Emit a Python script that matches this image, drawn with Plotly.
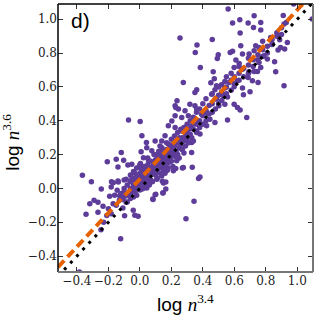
import plotly.graph_objects as go

# ---- data ----
pts = [
 # upper region
 (0.255,0.889),(0.46,0.880),(0.363,0.847),(0.352,0.804),(0.498,0.790),(0.492,0.768),(0.384,0.715),
 (0.466,0.689),(0.473,0.648),(0.276,0.626),(0.451,0.624),(0.54,0.632),(0.519,0.612),(0.487,0.607),
 (0.361,0.583),(0.477,0.583),(0.54,0.593),
 (0.561,1.060),(0.726,1.021),(0.589,0.977),(0.635,0.997),(0.688,0.977),(0.768,0.981),(0.637,0.918),
 (0.722,0.951),(0.768,0.936),(0.911,1.022),(0.916,0.972),(1.095,1.001),(0.977,1.09),(0.831,0.892),
 (0.888,0.879),(0.937,0.863),(0.842,0.853),(0.894,0.833),(0.878,0.818),(0.92,0.824),(0.856,0.749),
 (0.863,0.689),(0.916,0.607),
 (0.574,0.804),(0.589,0.81),(0.641,0.843),(0.652,0.794),(0.694,0.794),(0.736,0.843),(0.757,0.833),
 (0.726,0.814),(0.61,0.759),(0.631,0.739),(0.599,0.715),(0.652,0.705),(0.757,0.744),(0.768,0.715),
 (0.747,0.691),(0.726,0.691),(0.694,0.691),(0.688,0.656),(0.751,0.626),(0.715,0.636),(0.62,0.636),
 (0.652,0.593),(0.599,0.601),(0.568,0.626),(0.789,0.784),(0.81,0.765),
 # below line, right
 (0.557,0.541),(0.599,0.498),(0.62,0.478),(0.637,0.464),(0.658,0.553),(0.70,0.571),(0.679,0.419),
 (0.557,0.404),
 # middle band
 (0.35,0.567),(0.456,0.557),(0.487,0.528),(0.53,0.547),(0.54,0.498),(0.502,0.488),(0.224,0.488),
 (0.245,0.469),(0.318,0.498),(0.35,0.488),(0.287,0.459),(0.361,0.469),(0.424,0.449),(0.224,0.429),
 (0.203,0.399),(0.266,0.419),(0.308,0.429),(0.392,0.439),(0.445,0.409),(0.477,0.389),(0.424,0.37),
 (0.372,0.389),(0.181,0.37),(0.224,0.36),(0.266,0.34),(0.329,0.36),(0.361,0.34),(0.382,0.321),
 (0.297,0.301),(0.261,0.281),(0.16,0.311),(0.139,0.281),(0.181,0.262),(0.097,0.281),(0.128,0.251),
 (0.213,0.241),(0.171,0.212),(0.013,0.311),(0.044,0.241),(0.076,0.222),(0.118,0.192),(0.15,0.182),
 (0.108,0.153),(0.055,0.163),(0.023,0.182),(0.329,0.271),(0.329,0.212),(0.266,0.232),(0.234,0.163),
 (0.276,0.123),(0.382,0.068),(0.15,0.127),(0.213,0.104),(0.034,0.123),(0.076,0.104),(0.013,0.084),
 (0.044,0.06),(0.139,0.074),(0.108,0.054),(0.236,0.518),(0.228,0.478),
 # below line, centre
 (0.023,0.022),(0.044,0.003),(0.013,-0.003),(0.097,-0.037),(0.082,-0.062),(0.146,-0.027),(0.165,-0.003),
 (0.15,0.032),(0.344,-0.076),(0.293,-0.18),(0.333,0.125),(0.27,0.121),(0.228,0.117),(0.373,0.058),
 (0.143,0.042),(0.165,0.038),(0.148,-0.025),(0.175,0.108),(0.101,-0.034),(0.196,0.167),
 # left side
 (-0.072,0.404),(0.002,0.395),(-0.118,0.212),(-0.207,0.157),(-0.15,0.173),(-0.103,0.167),(-0.139,0.127),
 (-0.076,0.139),(-0.051,0.143),(0.008,0.216),(0.004,0.147),(-0.365,0.078),(-0.308,0.04),(0.042,0.271),
 (-0.169,0.033),(-0.137,0.038),(-0.291,-0.07),(-0.318,-0.09),(-0.266,-0.082),(-0.234,-0.105),
 (-0.342,-0.152),(-0.122,-0.297),(-0.384,-0.494),(-0.032,-0.158),(-0.011,-0.164),(0.084,-0.066),
 (-0.042,-0.129),(-0.245,-0.003),(-0.182,0.009),(-0.144,-0.011),(-0.192,-0.046),(-0.266,-0.141),
 (-0.182,-0.149),(-0.097,-0.161),(-0.128,-0.043),(-0.108,-0.066),(-0.108,-0.115),(-0.087,-0.082),
 (-0.247,-0.245),(-0.23,-0.2),
 (-0.18,0.04),(-0.139,0.044),(-0.087,0.054),(-0.044,0.06),(-0.013,0.074),(-0.034,0.093),(-0.002,0.128),
 # lower-left band
 (-0.2,-0.12),(-0.17,-0.09),(-0.15,-0.1),(-0.13,-0.07),(-0.12,-0.03),(-0.16,-0.04),(-0.21,-0.16),
 # dense core
 (-0.10,-0.05),(-0.10,0.0),(-0.10,-0.02),(-0.10,0.05),(-0.08,-0.04),(-0.08,0.02),(-0.08,-0.08),
 (-0.06,-0.03),(-0.06,0.0),(-0.06,0.04),(-0.06,0.08),(-0.06,-0.06),(-0.05,-0.01),(-0.05,0.06),
 (-0.04,0.02),(-0.04,-0.05),(-0.04,0.10),(-0.03,0.0),(-0.03,0.05),(-0.03,-0.02),(-0.02,0.03),
 (-0.02,0.08),(-0.02,-0.04),(-0.02,0.12),(-0.01,0.01),(-0.01,0.06),(0.0,0.04),(0.0,-0.01),(0.0,0.09),
 (0.0,0.14),(0.01,0.02),(0.01,0.07),(0.01,0.11),(0.02,0.05),(0.02,0.0),(0.02,0.09),(0.03,0.03),
 (0.03,0.08),(0.03,0.13),(0.04,0.06),(0.04,0.1),(0.04,0.02),(0.05,0.04),(0.05,0.08),(0.05,0.14),
 (0.05,0.18),(0.06,0.07),(0.06,0.11),(0.06,0.02),(0.07,0.05),(0.07,0.12),(0.07,0.16),(0.08,0.09),
 (0.08,0.13),(0.08,0.04),(0.09,0.11),(0.09,0.15),(0.09,0.2),(0.10,0.08),(0.10,0.13),(0.10,0.17),
 (0.11,0.1),(0.11,0.14),(0.11,0.2),(0.11,0.06),(0.12,0.12),(0.12,0.16),(0.12,0.22),(0.13,0.09),
 (0.13,0.15),(0.13,0.18),(0.14,0.13),(0.14,0.2),(0.14,0.24),(0.15,0.11),(0.15,0.16),(0.15,0.22),
 (0.16,0.14),(0.16,0.19),(0.16,0.09),(0.17,0.17),(0.17,0.23),(0.17,0.27),(0.18,0.15),(0.18,0.2),
 (0.18,0.12),(0.19,0.18),(0.19,0.24),(0.20,0.16),(0.20,0.22),(0.20,0.29),(0.21,0.2),(0.21,0.26),
 (0.21,0.13),(0.22,0.19),(0.22,0.25),(0.22,0.31),(0.23,0.22),(0.23,0.28),(0.24,0.2),(0.24,0.27),
 (0.24,0.33),(0.25,0.24),(0.25,0.3),(0.25,0.18),(0.26,0.26),(0.26,0.35),(0.27,0.23),(0.27,0.3),
 (0.28,0.28),(0.28,0.36),(0.28,0.21),(0.29,0.31),(0.29,0.25),(0.30,0.29),(0.30,0.38),(0.30,0.33),
 (0.31,0.27),(0.31,0.35),(0.32,0.32),(0.32,0.4),(0.33,0.3),(0.33,0.37),(0.34,0.35),(0.34,0.42),
 (0.34,0.28),(0.36,0.38),(0.36,0.33),(0.36,0.45),(0.38,0.4),(0.38,0.36),(0.38,0.47),(0.40,0.43),
 (0.40,0.38),(0.40,0.5),(0.42,0.46),(0.42,0.4),(0.42,0.53),(0.44,0.49),(0.44,0.44),(0.46,0.5),
 (0.46,0.45),(0.46,0.56),(0.48,0.53),(0.48,0.47),(0.50,0.55),(0.50,0.5),(0.50,0.6),(0.52,0.57),
 (0.52,0.52),(0.55,0.6),(0.55,0.56),(0.55,0.66),(0.58,0.64),(0.58,0.58),(0.58,0.68),(0.60,0.66),
 (0.60,0.62),(0.63,0.68),(0.63,0.64),(0.63,0.72),(0.66,0.71),(0.66,0.66),(0.69,0.73),(0.69,0.68),
 (0.69,0.77),(0.72,0.76),(0.72,0.72),(0.75,0.79),(0.75,0.76),(0.78,0.82),(0.78,0.78),(0.78,0.87),
 (0.81,0.84),(0.81,0.8),(0.84,0.88),(0.84,0.85),(0.87,0.92),(0.87,0.9),(0.9,0.95),(0.9,0.91),
 (0.93,0.98),
]
x_vals = [p[0] for p in pts]
y_vals = [p[1] for p in pts]

fit_slope, fit_intercept = 1.0, 0.055     # orange dashed fit
ident_slope, ident_intercept = 1.0, 0.0   # black dotted 1:1 line
x_range = [-0.52, 1.1]
y_range = [-0.494, 1.09]
x_ticks = [-0.4, -0.2, 0.0, 0.2, 0.4, 0.6, 0.8, 1.0]
y_ticks = [-0.4, -0.2, 0.0, 0.2, 0.4, 0.6, 0.8, 1.0]

PURPLE = "#5e3c99"
ORANGE = "#e66101"

fig = go.Figure()
fig.add_trace(go.Scatter(x=x_vals, y=y_vals, mode="markers",
                         marker=dict(size=5.5, color=PURPLE, line=dict(width=0)),
                         showlegend=False, hoverinfo="skip"))
fig.add_trace(go.Scatter(x=x_range, y=[ident_slope * v + ident_intercept for v in x_range],
                         mode="lines", line=dict(color="black", width=3, dash="3px,6px"),
                         showlegend=False))
fig.add_trace(go.Scatter(x=x_range, y=[fit_slope * v + fit_intercept for v in x_range],
                         mode="lines", line=dict(color=ORANGE, width=4, dash="9px,5px"),
                         showlegend=False))

tickfont = dict(family="DejaVu Serif", size=12, color="#222")
axis_common = dict(showgrid=False, zeroline=False, showline=False, ticks="inside",
                   ticklen=5, tickwidth=1, tickcolor="#333", mirror="ticks",
                   tickfont=tickfont, tickformat=".1f")
fig.update_xaxes(range=x_range, tickvals=x_ticks, **axis_common)
fig.update_yaxes(range=y_range, tickvals=y_ticks, **axis_common)

fig.update_layout(
    width=316, height=316, margin=dict(l=58, r=3, t=4, b=44),
    paper_bgcolor="white", plot_bgcolor="white",
    shapes=[
        dict(type="line", xref="paper", yref="paper", x0=0, x1=0, y0=0, y1=1, line=dict(color="black", width=1.5)),
        dict(type="line", xref="paper", yref="paper", x0=0, x1=1, y0=1, y1=1, line=dict(color="black", width=1.5)),
        dict(type="line", xref="paper", yref="paper", x0=1, x1=1, y0=0, y1=1, line=dict(color="#777", width=2)),
        dict(type="line", xref="paper", yref="paper", x0=0, x1=1, y0=0, y1=0, line=dict(color="#777", width=2)),
    ],
    annotations=[
        dict(text="d)", xref="paper", yref="paper", x=0.045, y=0.99, xanchor="left", yanchor="top",
             showarrow=False, font=dict(family="Liberation Sans", size=21, color="black")),
        dict(text="log <span style='font-family:Liberation Serif'><i>n</i><sup>3.4</sup></span>",
             xref="paper", yref="paper", x=0.5, y=-0.115, xanchor="center", yanchor="middle",
             showarrow=False, font=dict(family="Liberation Sans", size=19, color="black")),
        dict(text="log <span style='font-family:Liberation Serif'><i>n</i><sup>3.6</sup></span>",
             xref="paper", yref="paper", x=-0.185, y=0.485, xanchor="center", yanchor="middle",
             textangle=-90, showarrow=False, font=dict(family="Liberation Sans", size=19, color="black")),
    ],
)
fig.write_html("out.html", config={"displayModeBar": False, "staticPlot": True},
               post_script="document.body.style.margin='0px';document.body.style.overflow='hidden';")
